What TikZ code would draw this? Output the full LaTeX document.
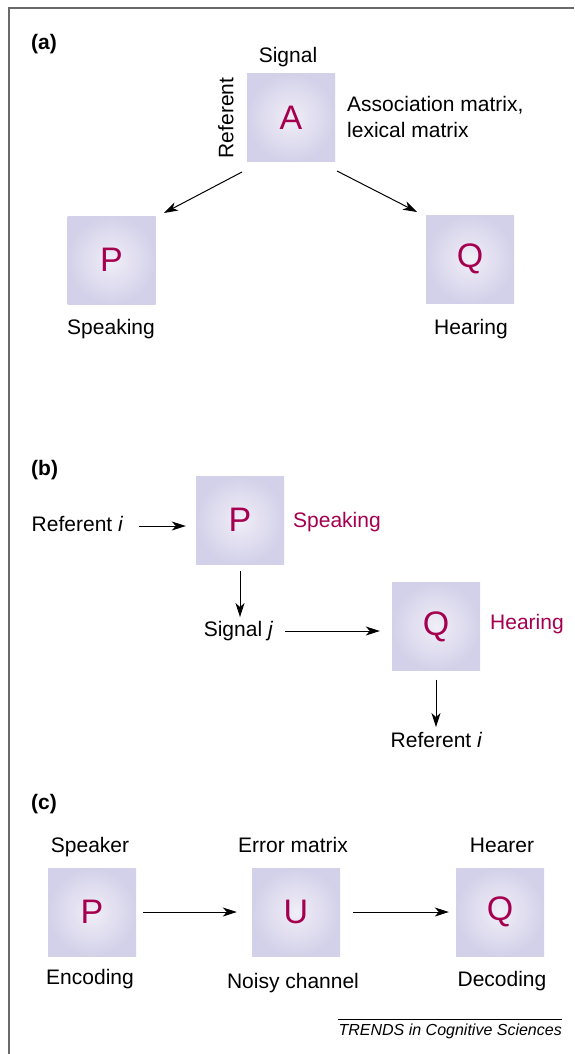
\documentclass[tikz,border=0pt]{standalone}
\usepackage{fontspec}
\setmainfont{Liberation Sans}
\usetikzlibrary{arrows.meta}
\definecolor{crim}{RGB}{165,0,80}
\definecolor{boxin}{RGB}{240,238,247}
\definecolor{boxout}{RGB}{211,209,233}
\definecolor{frame}{RGB}{105,105,105}
\begin{document}
\begin{tikzpicture}[x=1pt,y=-1pt,
  mbox/.style={minimum width=88pt, minimum height=88pt, inner sep=0pt,
    shading=radial, inner color=boxin, outer color=boxout,
    text=crim, font=\fontsize{34}{36}\selectfont},
  lbl/.style={inner sep=0pt, text height=15pt, text depth=4.5pt, font=\fontsize{21}{25}\selectfont},
  tag/.style={inner sep=0pt, anchor=west, font=\fontsize{21}{25}\selectfont\bfseries},
  arr/.style={-{Stealth[length=14pt,width=9pt,inset=4pt]}, line width=1pt}]
\useasboundingbox (0,0) rectangle (574,1054);
\draw[frame, line width=2pt] (574,8) -- (9,8) -- (9,1054);
% (a)
\node[tag] (ta) at (31,44) {(a)};
\node[mbox] (A) at (291,117.5) {A};
\node[mbox] (Pa) at (111.5,260) {P};
\node[mbox] (Qa) at (470,259) {Q};
\node[lbl] (sig) at (288,57) {Signal};
\node[lbl, rotate=90] (ref) at (228,118) {Referent};
\node[inner sep=0pt, anchor=west, align=left, font=\fontsize{21}{26}\selectfont] (assoc) at (347,117) {Association matrix,\\lexical matrix};
\node[lbl] (spa) at (111,329) {Speaking};
\node[lbl] (hea) at (471,329) {Hearing};
\coordinate (a1s) at (242,172);
\coordinate (a1e) at (164,213);
\coordinate (a2s) at (337,171);
\coordinate (a2e) at (417,212);
\draw[arr] (a1s) -- (a1e);
\draw[arr] (a2s) -- (a2e);
% (b)
\node[tag] (tb) at (31,470) {(b)};
\node[mbox] (Pb) at (240,520) {P};
\node[mbox] (Qb) at (436,626.5) {Q};
\node[lbl] (ri1) at (77.5,526) {Referent \textit{i}};
\node[lbl, anchor=west, text=crim] (spb) at (293,522) {Speaking};
\node[lbl] (sj) at (238.5,631) {Signal \textit{j}};
\node[lbl, anchor=west, text=crim] (heb) at (490,624) {Hearing};
\node[lbl] (ri2) at (436.5,742) {Referent \textit{i}};
\draw[arr, shorten <=16pt, shorten >=10pt] (ri1.east) -- (ri1.east -| Pb.west);
\draw[arr, shorten <=7pt, shorten >=4pt] (Pb.south) -- (Pb.south |- sj.north);
\draw[arr, shorten <=12pt, shorten >=12pt] (sj.east) -- (sj.east -| Qb.west);
\draw[arr, shorten <=9pt, shorten >=5pt] (Qb.south) -- (Qb.south |- ri2.north);
% (c)
\node[tag] (tc) at (31,804) {(c)};
\node[mbox] (Pc) at (92,912) {P};
\node[mbox] (U) at (296,912) {U};
\node[mbox] (Qc) at (500,912) {Q};
\node[lbl] (spk) at (90,847) {Speaker};
\node[lbl] (err) at (293,847) {Error matrix};
\node[lbl] (hrr) at (502,847) {Hearer};
\node[lbl] (enc) at (90,979) {Encoding};
\node[lbl] (noi) at (293,983) {Noisy channel};
\node[lbl] (dec) at (502,981) {Decoding};
\draw[arr, shorten <=7pt, shorten >=15pt] (Pc.east) -- (U.west);
\draw[arr, shorten <=13pt, shorten >=7pt] (U.east) -- (Qc.west);
% footer
\node[inner sep=0pt, anchor=east, font=\fontsize{16}{19}\selectfont\itshape] (tr) at (562,1031) {TRENDS in Cognitive Sciences};
\draw[line width=0.7pt] (tr.north west) ++(0,-4) coordinate (fl) (fl) -- (fl -| tr.north east);
\end{tikzpicture}
\end{document}
